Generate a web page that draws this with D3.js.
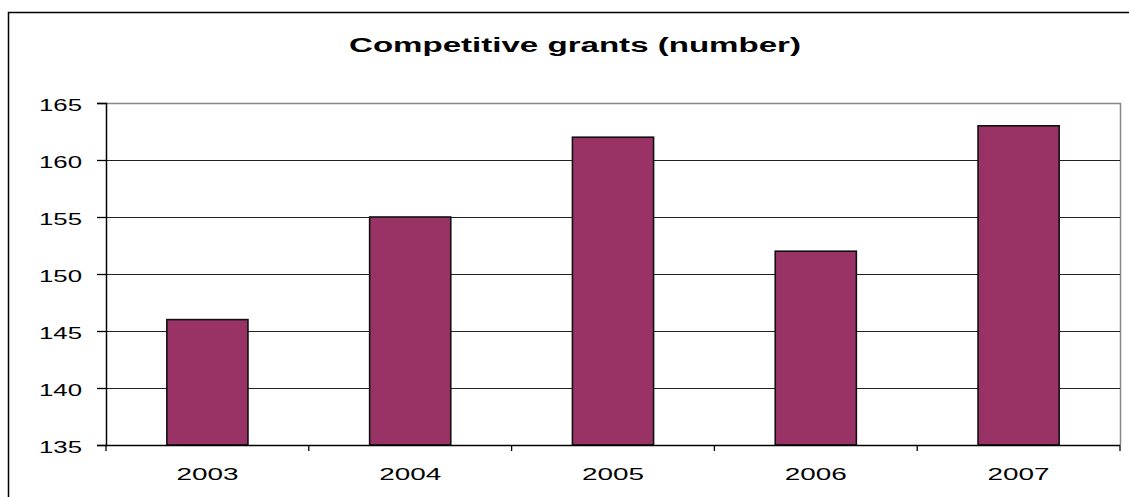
<!DOCTYPE html>
<html>
<head>
<meta charset="utf-8">
<script src="https://cdn.jsdelivr.net/npm/d3@7"></script>
<style>
  body { margin: 0; background: #fff; }
  text { font-family: "Liberation Sans", Arial, sans-serif; fill: #000; }
</style>
</head>
<body>
<div id="chart"></div>
<script>
// data
const years = ["2003", "2004", "2005", "2006", "2007"]
const grants = [146, 155, 162, 152, 163]
const yTicks = [135, 140, 145, 150, 155, 160, 165]
const title = "Competitive grants (number)"

const W = 1129, H = 497
const plot = { left: 106, right: 1120, top: 103, bottom: 445 }

let svg = d3.select("#chart").append("svg")
    .attr("width", W)
    .attr("height", H)

// outer chart frame (runs off the right and bottom edges)
svg.append("rect")
    .attr("x", 8.5).attr("y", 12.5)
    .attr("width", 1140).attr("height", 500)
    .attr("fill", "#fff")
    .attr("stroke", "#000")
    .attr("stroke-width", 1.5)

let x = d3.scaleBand()
    .domain(years)
    .range([plot.left, plot.right])
    .paddingInner(0.6)
    .paddingOuter(0.3)

let y = d3.scaleLinear()
    .domain([135, 165])
    .range([plot.bottom, plot.top])

// plot area border (grey top and right)
svg.append("path")
    .attr("d", `M${plot.left},${plot.top + 0.5}H${plot.right + 0.5}V${plot.bottom}`)
    .attr("fill", "none")
    .attr("stroke", "#888")
    .attr("stroke-width", 1.5)

// gridlines
svg.selectAll(".grid")
    .data(yTicks.filter(d => d > 135 && d < 165))
    .enter().append("line")
    .attr("class", "grid")
    .attr("x1", plot.left).attr("x2", plot.right)
    .attr("y1", d => Math.round(y(d)) + 0.5)
    .attr("y2", d => Math.round(y(d)) + 0.5)
    .attr("stroke", "#222")
    .attr("stroke-width", 1.2)

// bars
svg.selectAll(".bar")
    .data(grants)
    .enter().append("rect")
    .attr("class", "bar")
    .attr("x", (d, i) => x(years[i]))
    .attr("y", d => y(d))
    .attr("width", x.bandwidth())
    .attr("height", d => plot.bottom - y(d))
    .attr("fill", "#993366")
    .attr("stroke", "#111")
    .attr("stroke-width", 1.6)

// y axis
let yAxis = svg.append("g")
    .attr("transform", `translate(${plot.left},0)`)
    .call(d3.axisLeft(y).tickValues(yTicks).tickSize(9).tickPadding(0).tickFormat(d3.format("d")))
yAxis.select(".domain").attr("stroke", "#000").attr("stroke-width", 1.5)
yAxis.selectAll(".tick line").attr("stroke", "#000").attr("stroke-width", 1.3)
yAxis.selectAll(".tick text")
    .attr("x", -24)
    .attr("dy", "0.45em")
    .style("font-size", "16px")
    .attr("textLength", 43)
    .attr("lengthAdjust", "spacingAndGlyphs")

// x axis line and boundary ticks
svg.append("line")
    .attr("x1", plot.left).attr("x2", plot.right)
    .attr("y1", plot.bottom + 0.5).attr("y2", plot.bottom + 0.5)
    .attr("stroke", "#000").attr("stroke-width", 1.5)

svg.selectAll(".xtick")
    .data(d3.range(years.length + 1))
    .enter().append("line")
    .attr("class", "xtick")
    .attr("x1", i => plot.left + i * x.step())
    .attr("x2", i => plot.left + i * x.step())
    .attr("y1", plot.bottom)
    .attr("y2", plot.bottom + 6)
    .attr("stroke", "#000").attr("stroke-width", 1.3)

svg.selectAll(".xlabel")
    .data(years)
    .enter().append("text")
    .attr("class", "xlabel")
    .attr("x", d => x(d) + x.bandwidth() / 2)
    .attr("y", 480)
    .attr("text-anchor", "middle")
    .style("font-size", "16px")
    .attr("textLength", 62)
    .attr("lengthAdjust", "spacingAndGlyphs")
    .text(d => d)

// title
svg.append("text")
    .attr("x", 575)
    .attr("y", 52)
    .attr("text-anchor", "middle")
    .style("font-size", "20px")
    .style("font-weight", "bold")
    .attr("textLength", 452)
    .attr("lengthAdjust", "spacingAndGlyphs")
    .text(title)
</script>
</body>
</html>
